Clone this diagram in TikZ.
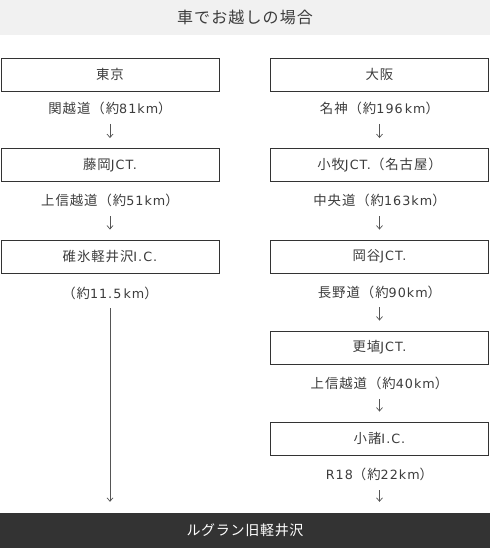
\documentclass[tikz,border=0pt]{standalone}
\usepackage{fontspec}
\setmainfont[LetterSpace=7]{Noto Sans CJK JP}
\newfontfamily\hdrfont[LetterSpace=7]{Noto Sans CJK JP}
\newfontfamily\footfont[LetterSpace=5]{Noto Sans CJK JP}
\newfontfamily\latfont[LetterSpace=8,Scale=0.95]{DejaVu Sans}
\newcommand{\lt}[1]{{\latfont #1}}
\usetikzlibrary{arrows.meta}
\definecolor{txt}{HTML}{3C3C3C}
\definecolor{boxline}{HTML}{333333}
\definecolor{hdr}{HTML}{F1F1F1}
\definecolor{foot}{HTML}{333333}
\definecolor{arrc}{HTML}{555555}
\begin{document}
\begin{tikzpicture}[x=1pt,y=-1pt,
  stop/.style={draw=boxline,line width=0.9pt,minimum width=218pt,minimum height=33pt,inner sep=0pt,text=txt,font=\fontsize{13.4}{15}\selectfont},
  road/.style={text=txt,inner sep=0pt,font=\fontsize{13.4}{15}\selectfont},
  band/.style={minimum width=490pt,minimum height=35pt,inner sep=0pt},
  arr/.style={draw=arrc,line width=0.7pt,-{Straight Barb[length=3.5pt,width=6pt]}},
  garr/.style={arr,shorten <=17pt,shorten >=10pt}]
\useasboundingbox (0,0) rectangle (490,548);
% header and footer
\node[band,fill=hdr,text=txt,font=\hdrfont\fontsize{16}{18}\selectfont] (head) at (245,17.5) {\raisebox{-1pt}{車でお越しの場合}};
\node[band,fill=foot,text=white,font=\footfont\fontsize{14}{16}\selectfont] (dest) at (245,530.5) {ルグラン旧軽井沢};
% left column
\node[stop] (l1) at (110,74.5) {\raisebox{-0.8pt}{東京}};
\node[road] (lr1) at (110,108) {関越道（約\lt{81km}）};
\node[stop] (l2) at (110,165) {\raisebox{-0.8pt}{藤岡\lt{JCT.}}};
\node[road] (lr2) at (110,200) {上信越道（約\lt{51km}）};
\node[stop] (l3) at (110,256.5) {\raisebox{-0.8pt}{碓氷軽井沢\lt{I.C.}}};
\node[road] (lr3) at (110,293) {（約\lt{11.5\,km}）};
% right column
\node[stop] (r1) at (379.5,74.5) {\raisebox{-0.8pt}{大阪}};
\node[road] (rr1) at (379.5,108) {名神（約\lt{196\,km}）};
\node[stop] (r2) at (379.5,165) {\raisebox{-0.8pt}{小牧\lt{JCT.}（名古屋）}};
\node[road] (rr2) at (379.5,200) {中央道（約\lt{163km}）};
\node[stop] (r3) at (379.5,256.5) {\raisebox{-0.8pt}{岡谷\lt{JCT.}}};
\node[road] (rr3) at (379.5,292) {長野道（約\lt{90km}）};
\node[stop] (r4) at (379.5,347.5) {\raisebox{-0.8pt}{更埴\lt{JCT.}}};
\node[road] (rr4) at (379.5,383) {上信越道（約\lt{40km}）};
\node[stop] (r5) at (379.5,438.5) {\raisebox{-0.8pt}{小諸\lt{I.C.}}};
\node[road] (rr5) at (379.5,474) {\lt{R18}（約\lt{22km}）};
% arrows
\draw[garr,shorten <=16pt] (lr1.center) -- (l2.north);
\draw[garr,shorten <=16pt] (lr2.center) -- (l3.north);
\draw[arr,shorten <=15pt,shorten >=11pt] (lr3.center) -- (lr3.center |- dest.north);
\draw[garr,shorten <=16pt] (rr1.center) -- (r2.north);
\draw[garr,shorten <=16pt] (rr2.center) -- (r3.north);
\draw[garr,shorten <=15pt] (rr3.center) -- (r4.north);
\draw[garr,shorten <=16pt] (rr4.center) -- (r5.north);
\draw[arr,shorten <=16pt,shorten >=11pt] (rr5.center) -- (rr5.center |- dest.north);
\end{tikzpicture}
\end{document}
